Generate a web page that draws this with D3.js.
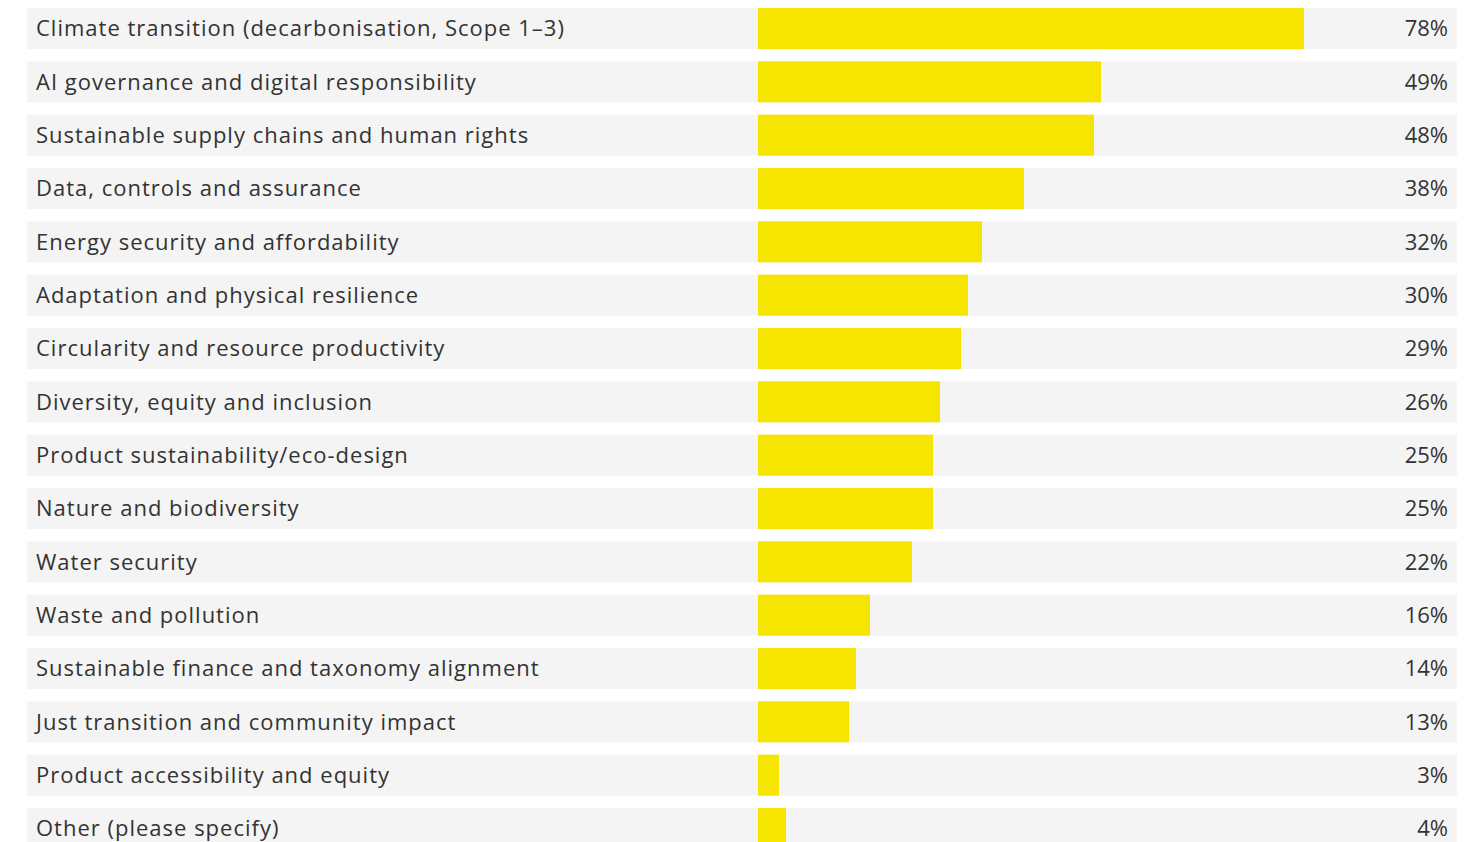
<!DOCTYPE html>
<html>
<head>
<meta charset="utf-8">
<script src="https://cdn.jsdelivr.net/npm/d3@7"></script>
<style>
  html, body { margin: 0; padding: 0; background: #ffffff; }
  svg { display: block; }
</style>
</head>
<body>
<svg id="chart" width="1484" height="842"></svg>
<script>
const categories = [
  "Climate transition (decarbonisation, Scope 1–3)",
  "AI governance and digital responsibility",
  "Sustainable supply chains and human rights",
  "Data, controls and assurance",
  "Energy security and affordability",
  "Adaptation and physical resilience",
  "Circularity and resource productivity",
  "Diversity, equity and inclusion",
  "Product sustainability/eco-design",
  "Nature and biodiversity",
  "Water security",
  "Waste and pollution",
  "Sustainable finance and taxonomy alignment",
  "Just transition and community impact",
  "Product accessibility and equity",
  "Other (please specify)"
];
const values = [78, 49, 48, 38, 32, 30, 29, 26, 25, 25, 22, 16, 14, 13, 3, 4];

const svg = d3.select("#chart");
const font = "'Open Sans', Lato, sans-serif";

const rowLeft = 27, rowRight = 1457;
const y = d3.scaleBand()
  .domain(categories)
  .range([8, 849])
  .paddingInner(0.2313)
  .paddingOuter(0);
// percentage axis runs across the right-hand part of each row
const x = d3.scaleLinear().domain([0, 100]).range([758, 1458]);

const rows = svg.selectAll("g.row")
  .data(categories.map((c, i) => ({ label: c, value: values[i] })))
  .join("g")
  .attr("class", "row")
  .attr("transform", d => `translate(0,${y(d.label)})`);

rows.append("rect")
  .attr("x", rowLeft)
  .attr("width", rowRight - rowLeft)
  .attr("height", y.bandwidth())
  .attr("fill", "#f4f4f4");

rows.append("rect")
  .attr("x", x(0))
  .attr("width", d => x(d.value) - x(0))
  .attr("height", y.bandwidth())
  .attr("fill", "#f5e500");

rows.append("text")
  .attr("x", 36)
  .attr("y", y.bandwidth() / 2 - 1)
  .attr("dominant-baseline", "central")
  .attr("font-family", font)
  .attr("font-size", 22)
  .attr("letter-spacing", 1)
  .attr("fill", "#333333")
  .text(d => d.label);

rows.append("text")
  .attr("x", 1448)
  .attr("y", y.bandwidth() / 2 - 1)
  .attr("dominant-baseline", "central")
  .attr("text-anchor", "end")
  .attr("font-family", font)
  .attr("font-size", 22)
  .attr("fill", "#333333")
  .text(d => d.value + "%");
</script>
</body>
</html>
